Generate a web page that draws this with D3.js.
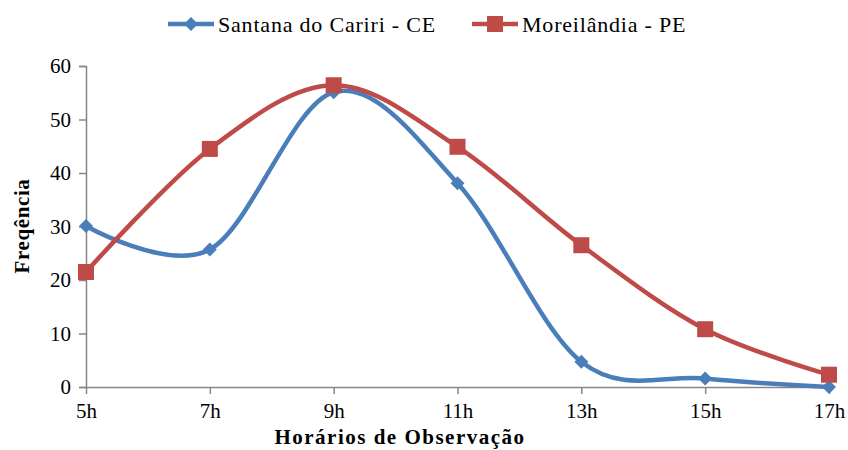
<!DOCTYPE html>
<html>
<head>
<meta charset="utf-8">
<script src="https://cdn.jsdelivr.net/npm/d3@7"></script>
<style>
  body { margin: 0; background: #fff; }
  svg text { font-family: "Liberation Serif", "Times New Roman", Tinos, "DejaVu Serif", serif !important; }
</style>
</head>
<body>
<svg id="chart" width="848" height="450"></svg>
<script>
var hours = ["5h", "7h", "9h", "11h", "13h", "15h", "17h"];
var santana = [30.1, 25.7, 55.1, 38.1, 4.7, 1.6, 0];
var moreilandia = [21.5, 44.5, 56.4, 44.9, 26.5, 10.8, 2.3];
var yTicks = [0, 10, 20, 30, 40, 50, 60];

var series = [
  { name: "Santana do Cariri - CE", values: santana, color: "#4a7ebb", marker: "diamond" },
  { name: "Moreilândia - PE", values: moreilandia, color: "#be4b48", marker: "square" }
];

var svg = d3.select("#chart");
var axisColor = "#868686";

var x = d3.scalePoint().domain(hours).range([86, 829]);
var y = d3.scaleLinear().domain([0, 60]).range([387, 66]);

// y axis
var yAxis = svg.append("g").attr("transform", "translate(86,0)")
  .call(d3.axisLeft(y).tickValues(yTicks).tickSize(7).tickPadding(8));
yAxis.attr("font-family", null);
yAxis.select(".domain").attr("stroke", axisColor).attr("stroke-width", 1.5);
yAxis.selectAll(".tick line").attr("stroke", axisColor).attr("stroke-width", 1.5);
yAxis.selectAll(".tick text").attr("font-size", 21).attr("fill", "#000");

// x axis
var xAxis = svg.append("g").attr("transform", "translate(0,387)")
  .call(d3.axisBottom(x).tickSize(7).tickPadding(9).tickSizeOuter(0));
xAxis.attr("font-family", null);
xAxis.select(".domain").attr("stroke", axisColor).attr("stroke-width", 1.5);
xAxis.selectAll(".tick line").attr("stroke", axisColor).attr("stroke-width", 1.5);
xAxis.selectAll(".tick text").attr("font-size", 21).attr("fill", "#000");

// axis titles
svg.append("text")
  .attr("x", 400).attr("y", 444)
  .attr("text-anchor", "middle")
  .attr("font-size", 21).attr("font-weight", "bold")
  .attr("letter-spacing", 1.5)
  .text("Horários de Observação");

svg.append("text")
  .attr("transform", "translate(29,226) rotate(-90)")
  .attr("text-anchor", "middle")
  .attr("font-size", 21).attr("font-weight", "bold")
  .attr("letter-spacing", 0.6)
  .text("Freqência");

var line = d3.line()
  .x(function(d, i) { return x(hours[i]); })
  .y(function(d) { return y(d); })
  .curve(d3.curveCatmullRom.alpha(0));

function drawMarker(g, type, color, cx, cy) {
  if (type === "diamond") {
    g.append("path")
      .attr("d", "M" + cx + "," + (cy - 7) + "L" + (cx + 7) + "," + cy + "L" + cx + "," + (cy + 7) + "L" + (cx - 7) + "," + cy + "Z")
      .attr("fill", color);
  } else {
    g.append("rect")
      .attr("x", cx - 8).attr("y", cy - 8)
      .attr("width", 16).attr("height", 16)
      .attr("fill", color);
  }
}

series.forEach(function(s) {
  svg.append("path")
    .datum(s.values)
    .attr("d", line)
    .attr("fill", "none")
    .attr("stroke", s.color)
    .attr("stroke-width", 4.5);
  var g = svg.append("g");
  s.values.forEach(function(v, i) {
    drawMarker(g, s.marker, s.color, x(hours[i]), y(v));
  });
});

// legend
var legendX = [168, 472];
series.forEach(function(s, i) {
  var g = svg.append("g").attr("transform", "translate(" + legendX[i] + ",24)");
  g.append("line").attr("x1", 0).attr("x2", 46).attr("y1", 0).attr("y2", 0)
    .attr("stroke", s.color).attr("stroke-width", 4.5);
  drawMarker(g, s.marker, s.color, 23, 0);
  g.append("text").attr("x", 50).attr("y", 8)
    .attr("font-size", 22).attr("letter-spacing", 0.8).text(s.name);
});
</script>
</body>
</html>
